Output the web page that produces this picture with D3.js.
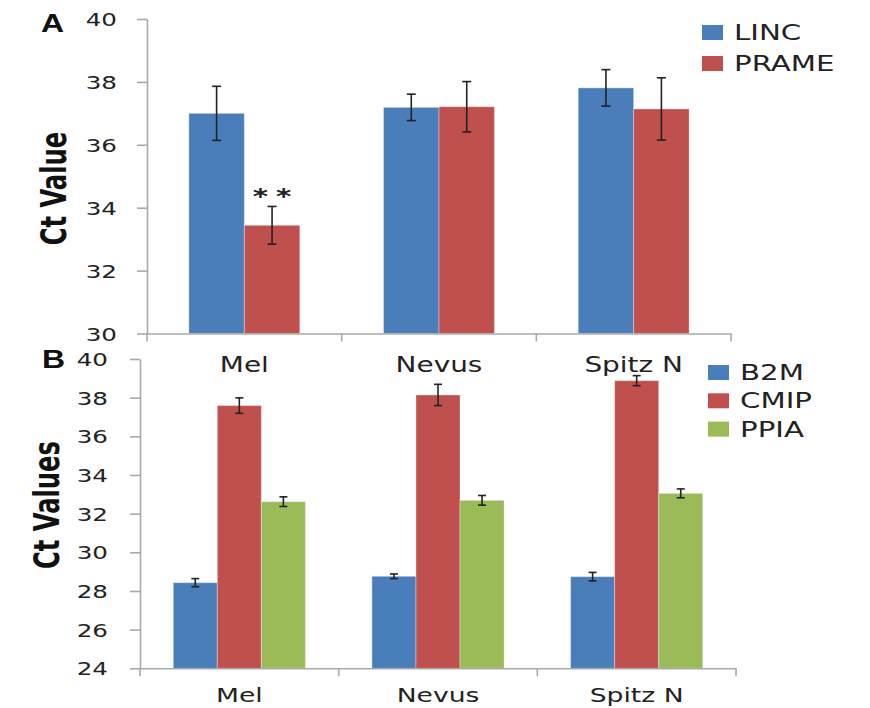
<!DOCTYPE html>
<html>
<head>
<meta charset="utf-8">
<script src="https://cdn.jsdelivr.net/npm/d3@7"></script>
<style>
  html, body { margin: 0; padding: 0; background: #ffffff; }
  svg { display: block; }
</style>
</head>
<body>
<svg id="chart" width="870" height="708"></svg>
<script>
// ---------- Data ----------
const categories = ["Mel", "Nevus", "Spitz N"];

// Panel A
const seriesA = ["LINC", "PRAME"];
const lincMean = [37.0, 37.19, 37.81];
const lincErr = [0.86, 0.42, 0.58];
const prameMean = [33.44, 37.21, 37.14];
const prameErr = [0.60, 0.80, 0.99];
const ticksA = [30, 32, 34, 36, 38, 40];
const titleA = "Ct Value";
const annotA = "**";

// Panel B
const seriesB = ["B2M", "CMIP", "PPIA"];
const b2mMean = [28.43, 28.76, 28.74];
const b2mErr = [0.21, 0.12, 0.22];
const cmipMean = [37.59, 38.14, 38.88];
const cmipErr = [0.40, 0.55, 0.26];
const ppiaMean = [32.62, 32.69, 33.05];
const ppiaErr = [0.25, 0.25, 0.23];
const ticksB = [24, 26, 28, 30, 32, 34, 36, 38, 40];
const titleB = "Ct Values";

// ---------- Styling ----------
const colors = { LINC: "#4a7ebb", PRAME: "#c0504d", B2M: "#4a7ebb", CMIP: "#c0504d", PPIA: "#9bbb59" };
const SX = 1.33;           // horizontal stretch of the picture's lettering
const FONT = "'DejaVu Sans', Verdana, sans-serif";
const AXIS_COL = "#a9a9a9";

const svg = d3.select("#chart");

function buildRows(series, means, errs) {
  const rows = [];
  categories.forEach((c, i) => {
    series.forEach((s, j) => {
      rows.push({ cat: c, series: s, value: means[j][i], err: errs[j][i] });
    });
  });
  return rows;
}

function panel(cfg) {
  const g = svg.append("g");
  const y = d3.scaleLinear().domain(cfg.domain).range([cfg.bottom, cfg.top]);
  const x0 = d3.scaleBand().domain(categories).range([cfg.left, cfg.right]).padding(0);
  const x1 = d3.scaleBand().domain(cfg.series).range([0, x0.bandwidth()])
    .paddingInner(0).paddingOuter(0.755);

  // Bars
  const rows = buildRows(cfg.series, cfg.means, cfg.errs);
  g.append("g").selectAll("rect").data(rows).join("rect")
    .attr("x", d => x0(d.cat) + x1(d.series))
    .attr("y", d => y(d.value))
    .attr("width", x1.bandwidth())
    .attr("height", d => y(cfg.domain[0]) - y(d.value))
    .attr("fill", d => colors[d.series])
    .attr("stroke", "rgba(255,255,255,0.35)")
    .attr("stroke-width", 1);

  // Error bars
  const eg = g.append("g").attr("stroke", "#222").attr("stroke-width", 1.6).attr("fill", "none");
  rows.forEach(d => {
    const cx = x0(d.cat) + x1(d.series) + x1.bandwidth() / 2;
    const yt = y(d.value + d.err), yb = y(d.value - d.err);
    const hw = cfg.capHalf;
    eg.append("line").attr("x1", cx).attr("x2", cx).attr("y1", yt).attr("y2", yb);
    eg.append("line").attr("x1", cx - hw).attr("x2", cx + hw).attr("y1", yt).attr("y2", yt);
    eg.append("line").attr("x1", cx - hw).attr("x2", cx + hw).attr("y1", yb).attr("y2", yb);
  });

  // Y axis
  const ya = g.append("g").attr("transform", `translate(${cfg.left},0)`)
    .call(d3.axisLeft(y).tickValues(cfg.ticks).tickFormat(d3.format("d")).tickSize(10).tickSizeOuter(0));
  ya.select(".domain").attr("stroke", AXIS_COL).attr("stroke-width", 1.6);
  ya.selectAll(".tick line").attr("stroke", AXIS_COL).attr("stroke-width", 1.6);
  ya.selectAll(".tick text")
    .attr("x", 0).attr("dy", "0.36em")
    .attr("transform", `translate(${-cfg.tickLabelGap},0) scale(${SX},1)`)
    .attr("font-family", FONT).attr("font-size", 18.5).attr("fill", "#222");

  // X axis
  const xa = g.append("g").attr("transform", `translate(0,${cfg.bottom})`)
    .call(d3.axisBottom(x0).tickSize(0).tickSizeOuter(0).tickPadding(0));
  xa.select(".domain").attr("stroke", AXIS_COL).attr("stroke-width", 1.6);
  xa.selectAll(".tick text")
    .attr("y", cfg.catLabelY).attr("dy", 0)
    .attr("transform", `scale(${SX},1)`)
    .attr("font-family", FONT).attr("font-size", cfg.catSize).attr("fill", "#222");
  // category boundary ticks
  const bounds = categories.map(c => x0(c)).concat([x0.range()[1]]);
  xa.append("g").selectAll("line").data(bounds).join("line")
    .attr("x1", d => d).attr("x2", d => d).attr("y1", 0).attr("y2", 8)
    .attr("stroke", AXIS_COL).attr("stroke-width", 1.6);

  // Y title
  svg.append("text")
    .attr("transform", `translate(${cfg.titleX},${cfg.titleY}) scale(${SX},1) rotate(-90)`)
    .attr("text-anchor", "middle")
    .attr("font-family", "'Liberation Sans Narrow', 'DejaVu Sans Condensed', 'Arial Narrow', sans-serif")
    .attr("font-stretch", "condensed")
    .attr("font-weight", "bold").attr("font-size", cfg.titleSize).attr("fill", "#111")
    .text(cfg.title);

  // Panel letter
  svg.append("text")
    .attr("transform", `translate(${cfg.letterX},${cfg.letterY}) scale(1.28,1)`)
    .attr("font-family", "'Liberation Sans', Arial, sans-serif")
    .attr("font-weight", "bold").attr("font-size", 25).attr("fill", "#111")
    .text(cfg.letter);

  // Legend
  const lg = svg.append("g");
  cfg.series.forEach((s, i) => {
    const yy = cfg.legendY + i * cfg.legendStep;
    lg.append("rect").attr("x", cfg.legendX).attr("y", yy - 15)
      .attr("width", 21).attr("height", 15).attr("fill", colors[s]);
    lg.append("text")
      .attr("transform", `translate(${cfg.legendX + 32},${yy}) scale(${SX},1)`)
      .attr("font-family", FONT).attr("font-size", 22).attr("fill", "#222")
      .text(s);
  });

  return { x0, x1, y, g };
}

// Panel A
const pA = panel({
  series: seriesA, means: [lincMean, prameMean], errs: [lincErr, prameErr],
  domain: [30, 40], ticks: ticksA, top: 19, bottom: 333.5, left: 147, right: 731,
  capHalf: 4.5, tickLabelGap: 30, catLabelY: 39, catSize: 21,
  title: titleA, titleX: 66, titleY: 188.5, titleSize: 27,
  letter: "A", letterX: 41, letterY: 31.5,
  legendX: 702, legendY: 40, legendStep: 31
});
// significance mark on Mel / PRAME
svg.append("text")
  .attr("transform", `translate(${pA.x0("Mel") + pA.x1("PRAME") + pA.x1.bandwidth() / 2 + 4},${pA.y(prameMean[0] + prameErr[0]) - 2}) scale(${SX},1)`)
  .attr("text-anchor", "middle")
  .attr("letter-spacing", 6)
  .attr("font-family", FONT).attr("font-size", 22).attr("font-weight", "bold").attr("fill", "#222")
  .text(annotA);

// Panel B
panel({
  series: seriesB, means: [b2mMean, cmipMean, ppiaMean], errs: [b2mErr, cmipErr, ppiaErr],
  domain: [24, 40], ticks: ticksB, top: 359, bottom: 668.3, left: 140, right: 736,
  capHalf: 4, tickLabelGap: 32, catLabelY: 34, catSize: 20,
  title: titleB, titleX: 59, titleY: 505, titleSize: 27,
  letter: "B", letterX: 42, letterY: 368,
  legendX: 708, legendY: 380, legendStep: 28.3
});
</script>
</body>
</html>
